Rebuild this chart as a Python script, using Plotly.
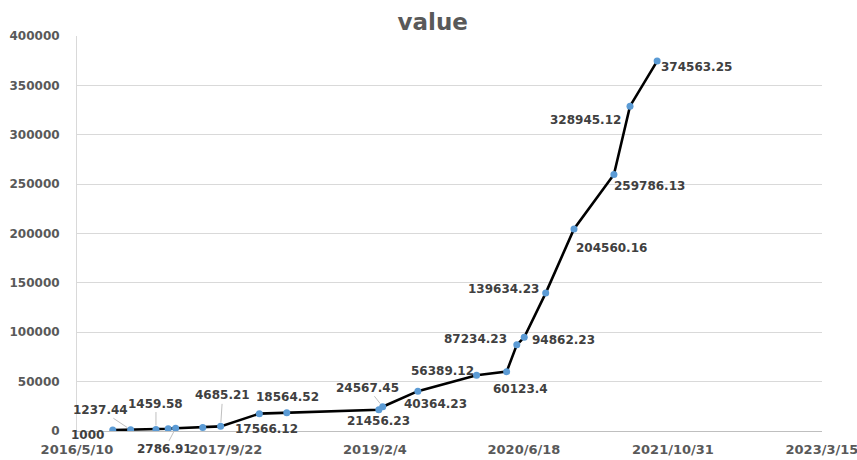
import plotly.graph_objects as go

# ---- data ----
dates = ["2016-09-07", "2016-11-06", "2017-01-30", "2017-03-12", "2017-04-06",
         "2017-07-06", "2017-09-04", "2018-01-12", "2018-04-14", "2019-02-17",
         "2019-03-02", "2019-06-28", "2020-01-11", "2020-04-21", "2020-05-25",
         "2020-06-19", "2020-08-30", "2020-12-03", "2021-04-16", "2021-06-09",
         "2021-09-08"]
values = [1000, 1237.44, 1459.58, 2300, 2786.91,
          3600, 4685.21, 17566.12, 18564.52, 21456.23,
          24567.45, 40364.23, 56389.12, 60123.4, 87234.23,
          94862.23, 139634.23, 204560.16, 259786.13, 328945.12,
          374563.25]
labels = ["1000", "1237.44", "1459.58", "", "2786.91",
          "", "4685.21", "17566.12", "18564.52", "21456.23",
          "24567.45", "40364.23", "56389.12", "60123.4", "87234.23",
          "94862.23", "139634.23", "204560.16", "259786.13", "328945.12",
          "374563.25"]
x_tick_vals = ["2016-05-10", "2017-09-22", "2019-02-04", "2020-06-18", "2021-10-31", "2023-03-15"]
x_tick_text = ["2016/5/10", "2017/9/22", "2019/2/4", "2020/6/18", "2021/10/31", "2023/3/15"]
y_tick_vals = [0, 50000, 100000, 150000, 200000, 250000, 300000, 350000, 400000]

# ---- label placement (pixel offsets: dx right, dy down; leader line flag) ----
label_style = [(-25, 5, False), (-30, -20, True), (0, -26, True), (0, 0, False), (-11, 21, True),
               (0, 0, False), (2, -31, True), (7, 15, False), (1, -16, False), (0, 11, False),
               (-15, -19, True), (18, 13, False), (-34, -4, False), (14, 17, False), (-41, -6, False),
               (39, 3, False), (-42, -4, False), (37, 19, False), (36, 12, False), (-45, 14, False),
               (39, 6, False)]

fig = go.Figure()
fig.add_trace(go.Scatter(
    x=dates, y=values, mode="lines+markers",
    line=dict(color="#000000", width=2.6),
    marker=dict(color="#5b9bd5", size=7),
    hoverinfo="x+y", showlegend=False,
))

font_lbl = dict(family="DejaVu Sans", size=12, color="#404040", weight="bold")
annotations = []
for d, v, t, (dx, dy, lead) in zip(dates, values, labels, label_style):
    if not t:
        continue
    if lead:
        annotations.append(dict(x=d, y=v, xref="x", yref="y", text=t, showarrow=True,
                                ax=dx, ay=dy, arrowhead=0, arrowwidth=1, arrowcolor="#bfbfbf",
                                standoff=4, font=font_lbl))
    else:
        annotations.append(dict(x=d, y=v, xref="x", yref="y", text=t, showarrow=False,
                                xshift=dx, yshift=-dy, font=font_lbl))

fig.update_layout(
    width=857, height=460,
    margin=dict(l=77, r=35, t=36, b=29),
    paper_bgcolor="white", plot_bgcolor="white",
    title=dict(text="value", x=0.505, xanchor="center", y=0.952, yanchor="middle",
               font=dict(family="DejaVu Sans", size=23, color="#595959", weight="bold")),
    annotations=annotations,
    xaxis=dict(
        type="date", range=["2016-05-10", "2023-03-15 08:00"], automargin=False,
        tickmode="array", tickvals=x_tick_vals, ticktext=x_tick_text,
        showgrid=False, zeroline=False,
        showline=True, linecolor="#bfbfbf", linewidth=1,
        ticks="", ticklabelstandoff=6, ticklabeloverflow="allow",
        tickfont=dict(family="DejaVu Sans", size=13, color="#595959", weight="bold"),
    ),
    yaxis=dict(
        range=[0, 400000], tickmode="array", tickvals=y_tick_vals, tickformat="d",
        automargin=False,
        showgrid=True, gridcolor="#d9d9d9", gridwidth=1, zeroline=False,
        showline=True, linecolor="#d9d9d9", linewidth=1,
        ticks="", ticklabelstandoff=14,
        tickfont=dict(family="DejaVu Sans", size=12, color="#595959", weight="bold"),
    ),
)

fig.write_html("out.html", config={"displayModeBar": False},
               post_script="document.body.style.margin='0';document.body.style.overflow='hidden';")
